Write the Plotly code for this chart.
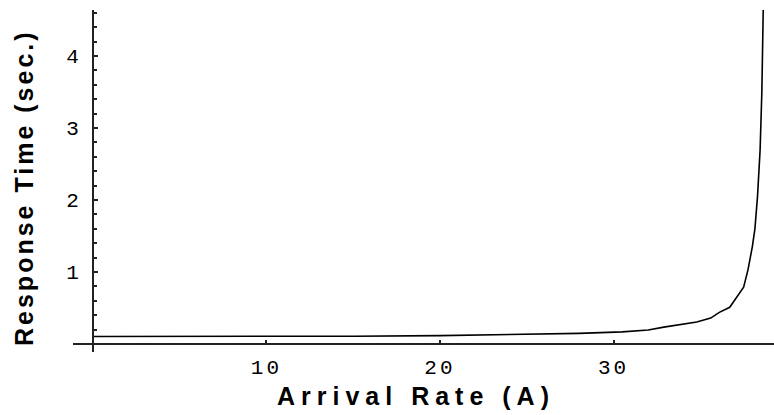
import plotly.graph_objects as go

# Data
rate = [0, 5, 10, 15, 20, 24, 28, 30.5, 32, 32.9, 33.8, 34.8, 35.6, 36.1,
        36.7, 37.1, 37.5, 37.75, 38.0, 38.15, 38.3, 38.45, 38.55, 38.63]
resp = [0.105, 0.105, 0.106, 0.108, 0.117, 0.13, 0.148, 0.168, 0.195, 0.235,
        0.265, 0.305, 0.36, 0.44, 0.51, 0.65, 0.79, 1.03, 1.35, 1.6, 2.05,
        2.7, 3.5, 4.65]
x_ticks = [10, 20, 30]
y_ticks = [1, 2, 3, 4]

x_title = "Arrival Rate (A)"
y_title = "Response Time (sec.)"

fig = go.Figure()
fig.add_trace(go.Scatter(x=rate, y=resp, mode="lines",
                         line=dict(color="black", width=1.6),
                         hoverinfo="skip", showlegend=False))

W, H = 774, 415
ml, mr, mt, mb = 73, 0, 10, 63
pw, ph = W - ml - mr, H - mt - mb

tick_font = dict(family="Liberation Mono, Courier New, monospace", size=21, color="#000")
axis_col = "#222"

fig.update_layout(
    width=W, height=H,
    margin=dict(l=ml, r=mr, t=mt, b=mb, pad=0),
    paper_bgcolor="white", plot_bgcolor="white",
    xaxis=dict(range=[-1.15, 39.25], showgrid=False, zeroline=False,
               anchor="free", position=8 / ph,
               showline=True, linecolor=axis_col, linewidth=2,
               tickmode="array", tickvals=x_ticks, ticktext=[str(v) for v in x_ticks],
               ticks="inside", ticklen=3, tickwidth=2, tickcolor=axis_col,
               ticklabelstandoff=4, tickfont=tick_font),
    yaxis=dict(range=[-0.111, 4.639], showgrid=False, zeroline=False,
               anchor="free", position=20 / pw,
               showline=True, linecolor=axis_col, linewidth=2,
               tickmode="array", tickvals=y_ticks, ticktext=[str(v) for v in y_ticks],
               ticks="inside", ticklen=4, tickwidth=1.5, tickcolor=axis_col,
               ticklabelstandoff=6, tickfont=tick_font,
               minor=dict(dtick=0.2, tick0=0, ticks="inside", ticklen=3,
                          tickwidth=1.5, tickcolor=axis_col, showgrid=False)),
    annotations=[
        dict(text=x_title, xref="paper", yref="paper",
             x=(416 - ml) / pw, y=(352 - 396) / ph,
             xanchor="center", yanchor="middle", showarrow=False,
             font=dict(family="Liberation Sans, Arial, sans-serif", size=25,
                       color="black", weight="bold")),
        dict(text=y_title, xref="paper", yref="paper",
             x=(24 - ml) / pw, y=(352 - 188) / ph, textangle=-90,
             xanchor="center", yanchor="middle", showarrow=False,
             font=dict(family="Liberation Sans, Arial, sans-serif", size=25,
                       color="black", weight="bold")),
    ],
)

post = """
document.body.style.margin = '0';
document.documentElement.style.margin = '0';
var gd = document.getElementById('{plot_id}');
var anns = gd.querySelectorAll('.annotation-text');
if (anns.length > 0) { anns[0].style.letterSpacing = '6px'; }
if (anns.length > 1) { anns[1].style.letterSpacing = '3px'; }
gd.querySelectorAll('.xtick text, .ytick text').forEach(function(t){ t.style.letterSpacing = '3px'; });
"""

fig.write_html("out.html", post_script=post, config={"displayModeBar": False})
